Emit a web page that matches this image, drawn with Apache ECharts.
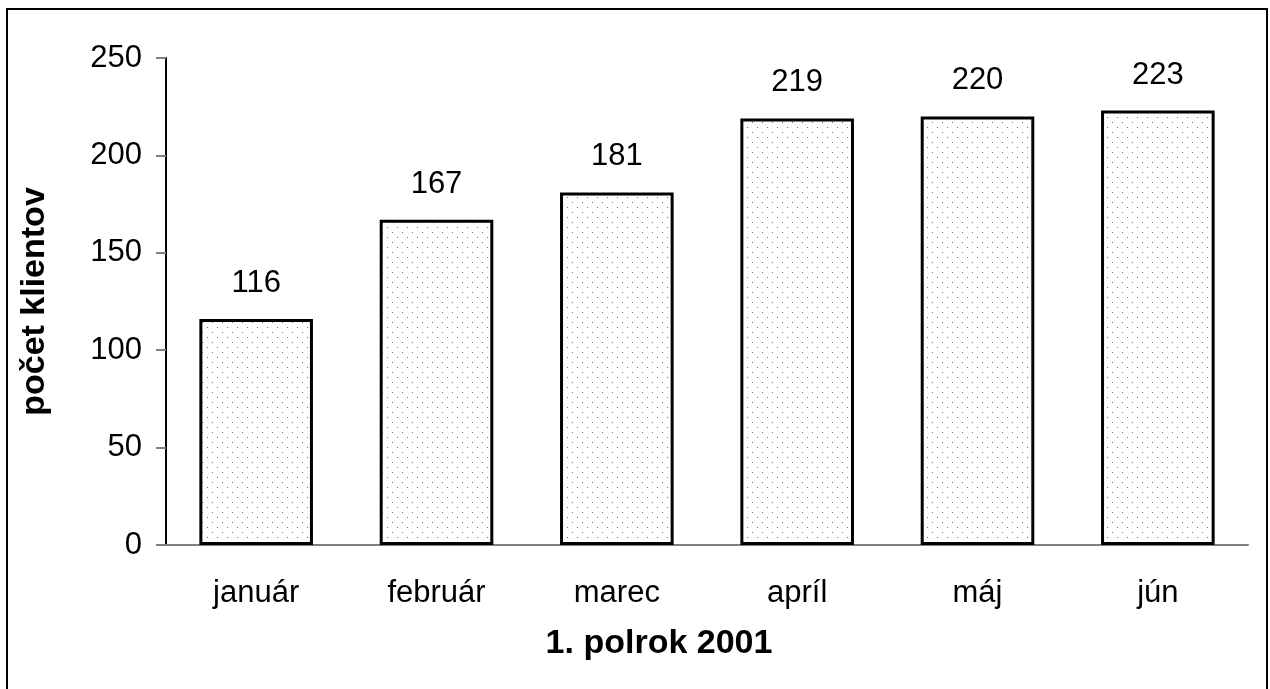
<!DOCTYPE html>
<html>
<head>
<meta charset="utf-8">
<script src="https://cdn.jsdelivr.net/npm/echarts@6/dist/echarts.min.js"></script>
<style>
  html, body { margin: 0; padding: 0; background: #fff; }
  #chart { width: 1270px; height: 689px; }
</style>
</head>
<body>
<div id="chart"></div>
<script>
// data
const months = ['január', 'február', 'marec', 'apríl', 'máj', 'jún'];
const clients = [116, 167, 181, 219, 220, 223];
const yTicks = [0, 50, 100, 150, 200, 250];

// dotted fill like the old excel pattern
const dots = document.createElement('canvas');
dots.width = 10;
dots.height = 10;
const ctx = dots.getContext('2d');
ctx.fillStyle = '#ffffff';
ctx.fillRect(0, 0, 10, 10);
ctx.fillStyle = '#707070';
ctx.fillRect(2, 2, 1, 1);
ctx.fillRect(7, 7, 1, 1);

const font = '"Liberation Sans", Arial, sans-serif';
const myChart = echarts.init(document.getElementById('chart'));

const option = {
  animation: false,
  backgroundColor: '#fff',
  grid: { left: 166, right: 22, top: 58, bottom: 144 },
  title: {
    text: '1. polrok 2001',
    left: 654,
    top: 622,
    textAlign: 'center',
    textStyle: { fontFamily: font, fontSize: 34, fontWeight: 'bold', color: '#000' }
  },
  graphic: [
    {
      type: 'rect',
      shape: { x: 7, y: 9, width: 1260, height: 700 },
      style: { fill: 'none', stroke: '#000', lineWidth: 2 },
      silent: true
    }
  ],
  xAxis: {
    type: 'category',
    data: months,
    axisLine: { lineStyle: { color: '#808080', width: 2 } },
    axisTick: { length: 10, lineStyle: { color: '#808080', width: 2 } },
    axisLabel: { margin: 33, fontFamily: font, fontSize: 31, color: '#000' }
  },
  yAxis: {
    type: 'value',
    min: yTicks[0],
    max: yTicks[yTicks.length - 1],
    interval: 50,
    name: 'počet klientov',
    nameLocation: 'middle',
    nameGap: 114,
    nameTextStyle: { fontFamily: font, fontSize: 34, fontWeight: 'bold', color: '#000' },
    splitLine: { show: false },
    axisLine: { show: true, lineStyle: { color: '#000', width: 2 } },
    axisTick: { show: true, length: 10, lineStyle: { color: '#808080', width: 2 } },
    axisLabel: { margin: 24, fontFamily: font, fontSize: 31, color: '#000' }
  },
  series: [
    {
      type: 'bar',
      data: clients,
      barWidth: '63%',
      itemStyle: {
        color: { image: dots, repeat: 'repeat' },
        borderColor: '#000',
        borderWidth: 3
      },
      label: {
        show: true,
        position: 'top',
        distance: 20,
        fontFamily: font,
        fontSize: 31,
        color: '#000'
      }
    }
  ]
};

myChart.setOption(option);
</script>
</body>
</html>
